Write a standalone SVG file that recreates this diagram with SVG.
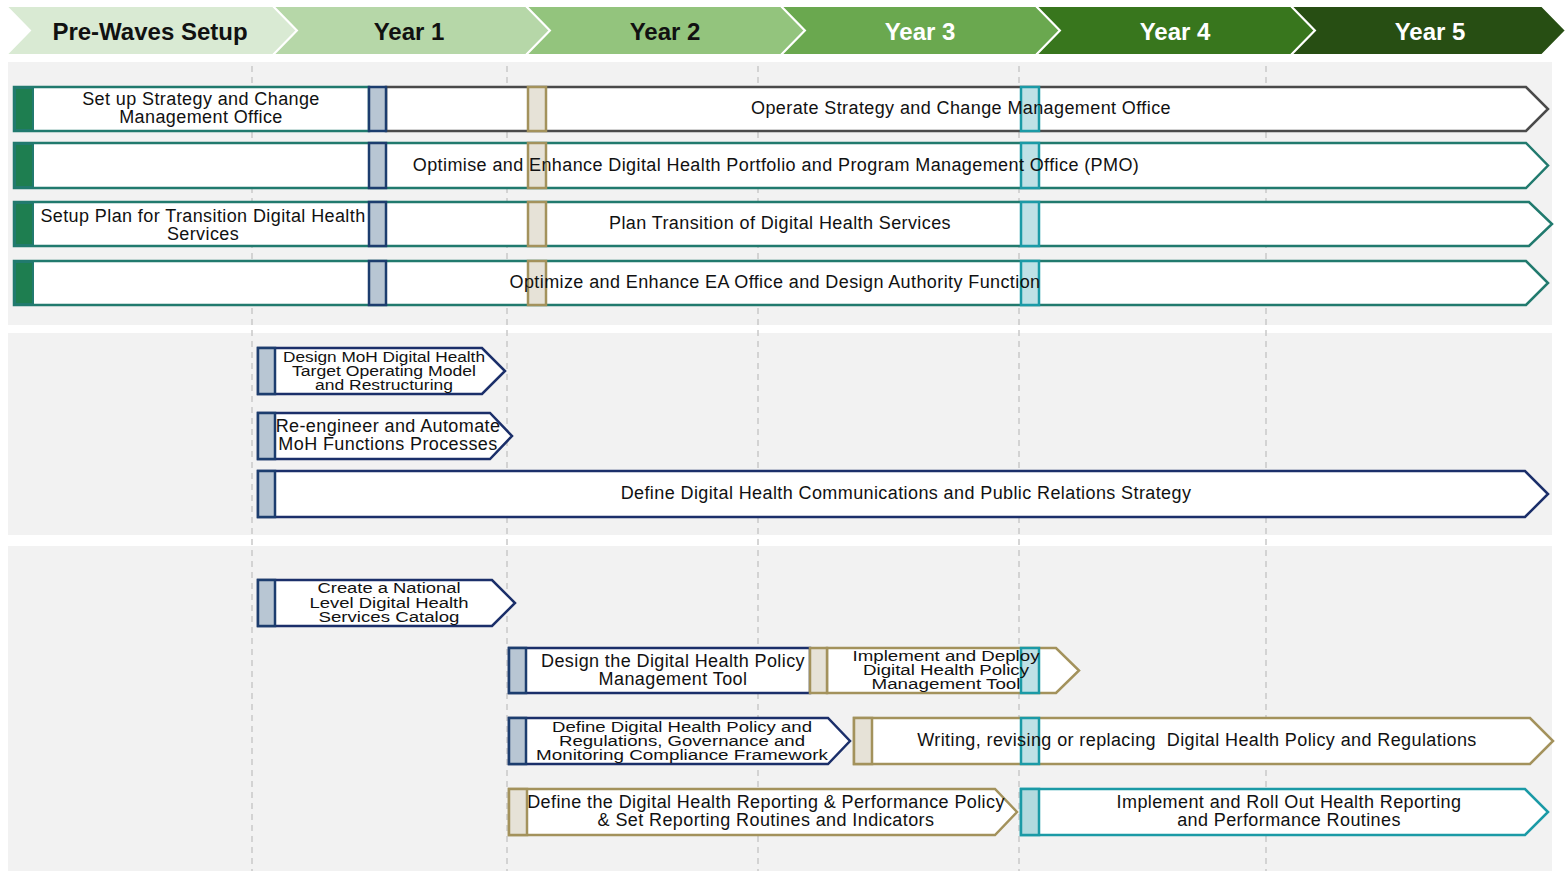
<svg xmlns="http://www.w3.org/2000/svg" width="1566" height="871" viewBox="0 0 1566 871">
<style>
.hdr{stroke:#ffffff;stroke-width:2}
.ht{font-family:"Liberation Sans",Arial,sans-serif;font-weight:bold;font-size:24px;text-anchor:middle}
.panel{fill:#f2f2f2}
.grid{stroke:#c9c9c9;stroke-width:1.5;stroke-dasharray:6 5;fill:none}
.box{fill:#ffffff;stroke-width:2.5}
.teal{stroke:#217a6e}
.gray{stroke:#4a4a4a}
.navy{stroke:#1b2f6a}
.tan{stroke:#a3925c}
.cyan{stroke:#1b9aa6}
.gblk{fill:#1e7e50;stroke:#217a6e;stroke-width:2}
.bbox{fill:#b8c6d3;stroke:#1c3d6e;stroke-width:2.5}
.tbox{fill:#e6e2d7;stroke:#a3925c;stroke-width:2.5}
.cbox{fill:#bfe1e6;stroke:#1b9aa6;stroke-width:2.5}
.t{font-family:"Liberation Sans",Arial,sans-serif;font-size:18px;letter-spacing:0.4px;fill:#111111;text-anchor:middle}
.s{font-family:"Liberation Sans",Arial,sans-serif;font-size:14px;fill:#111111;text-anchor:middle}
</style>
<rect width="1566" height="871" fill="#ffffff"/>
<g id="header">
<polygon class="hdr" fill="#d9ead3" points="6,6 273,6 297,30.5 273,55 6,55 30,30.5"/>
<polygon class="hdr" fill="#b6d7a8" points="273,6 526,6 550,30.5 526,55 273,55 297,30.5"/>
<polygon class="hdr" fill="#93c47d" points="526,6 781,6 805,30.5 781,55 526,55 550,30.5"/>
<polygon class="hdr" fill="#6aa84f" points="781,6 1036,6 1060,30.5 1036,55 781,55 805,30.5"/>
<polygon class="hdr" fill="#38761d" points="1036,6 1291,6 1315,30.5 1291,55 1036,55 1060,30.5"/>
<polygon class="hdr" fill="#274e13" points="1291,6 1542,6 1566,30.5 1542,55 1291,55 1315,30.5"/>
<text class="ht" x="150" y="39.5" fill="#111111">Pre-Waves Setup</text>
<text class="ht" x="409" y="39.5" fill="#111111">Year 1</text>
<text class="ht" x="665" y="39.5" fill="#111111">Year 2</text>
<text class="ht" x="920" y="39.5" fill="#ffffff">Year 3</text>
<text class="ht" x="1175" y="39.5" fill="#ffffff">Year 4</text>
<text class="ht" x="1430" y="39.5" fill="#ffffff">Year 5</text>
</g>
<g id="panels">
<rect class="panel" x="8" y="62" width="1544" height="263"/>
<rect class="panel" x="8" y="333" width="1544" height="202"/>
<rect class="panel" x="8" y="546" width="1544" height="325"/>
</g>
<g id="gridlines">
<line class="grid" x1="252" y1="66" x2="252" y2="871"/>
<line class="grid" x1="507" y1="66" x2="507" y2="871"/>
<line class="grid" x1="758" y1="66" x2="758" y2="871"/>
<line class="grid" x1="1019" y1="66" x2="1019" y2="871"/>
<line class="grid" x1="1266" y1="66" x2="1266" y2="871"/>
</g>
<g id="connectors"/>
<g id="row1">
<rect class="box teal" x="14" y="87" width="355" height="44"/>
<polygon class="box gray" points="386,87 1526,87 1548,109 1526,131 386,131"/>
<rect class="gblk" x="15" y="88" width="18" height="42"/>
<rect class="bbox" x="369" y="87" width="17" height="44"/>
<rect class="tbox" x="528" y="87" width="18" height="44"/>
<rect class="cbox" x="1021" y="87" width="18" height="44"/>
<text class="t" x="201" y="105">Set up Strategy and Change</text>
<text class="t" x="201" y="123">Management Office</text>
<text class="t" x="961" y="114">Operate Strategy and Change Management Office</text>
</g>
<g id="row2">
<polygon class="box teal" points="14,143 1526,143 1548,165.5 1526,188 14,188"/>
<rect class="gblk" x="15" y="144" width="18" height="43"/>
<rect class="bbox" x="369" y="143" width="17" height="45"/>
<rect class="tbox" x="528" y="143" width="18" height="45"/>
<rect class="cbox" x="1021" y="143" width="18" height="45"/>
<text class="t" x="776" y="171">Optimise and Enhance Digital Health Portfolio and Program Management Office (PMO)</text>
</g>
<g id="row3">
<polygon class="box teal" points="14,202 1529,202 1552,224 1529,246 14,246"/>
<rect class="gblk" x="15" y="203" width="18" height="42"/>
<rect class="bbox" x="369" y="202" width="17" height="44"/>
<rect class="tbox" x="528" y="202" width="18" height="44"/>
<rect class="cbox" x="1021" y="202" width="18" height="44"/>
<text class="t" x="203" y="222">Setup Plan for Transition Digital Health</text>
<text class="t" x="203" y="240">Services</text>
<text class="t" x="780" y="229">Plan Transition of Digital Health Services</text>
</g>
<g id="row4">
<polygon class="box teal" points="14,261 1526,261 1548,283 1526,305 14,305"/>
<rect class="gblk" x="15" y="262" width="18" height="42"/>
<rect class="bbox" x="369" y="261" width="17" height="44"/>
<rect class="tbox" x="528" y="261" width="18" height="44"/>
<rect class="cbox" x="1021" y="261" width="18" height="44"/>
<text class="t" x="775" y="288">Optimize and Enhance EA Office and Design Authority Function</text>
</g>
<g id="design-moh-tom">
<polygon class="box navy" points="258,348 482,348 505,371 482,394 258,394"/>
<rect class="bbox" x="258" y="348" width="17" height="46"/>
<text class="s" x="384" y="362" textLength="202" lengthAdjust="spacingAndGlyphs">Design MoH Digital Health</text>
<text class="s" x="384" y="376" textLength="184" lengthAdjust="spacingAndGlyphs">Target Operating Model</text>
<text class="s" x="384" y="390" textLength="138" lengthAdjust="spacingAndGlyphs">and Restructuring</text>
</g>
<g id="reengineer-moh">
<polygon class="box navy" points="258,413 490,413 512,436 490,459 258,459"/>
<rect class="bbox" x="258" y="413" width="17" height="46"/>
<text class="t" x="388" y="432">Re-engineer and Automate</text>
<text class="t" x="388" y="450">MoH Functions Processes</text>
</g>
<g id="comms-strategy">
<polygon class="box navy" points="258,471 1525,471 1548,494 1525,517 258,517"/>
<rect class="bbox" x="258" y="471" width="17" height="46"/>
<text class="t" x="906" y="499">Define Digital Health Communications and Public Relations Strategy</text>
</g>
<g id="services-catalog">
<polygon class="box navy" points="258,580 492,580 515,603 492,626 258,626"/>
<rect class="bbox" x="258" y="580" width="17" height="46"/>
<text class="s" x="389" y="593" textLength="143" lengthAdjust="spacingAndGlyphs">Create a National</text>
<text class="s" x="389" y="607.5" textLength="159" lengthAdjust="spacingAndGlyphs">Level Digital Health</text>
<text class="s" x="389" y="622" textLength="141" lengthAdjust="spacingAndGlyphs">Services Catalog</text>
</g>
<g id="policy-tool">
<rect class="box navy" x="509" y="648" width="301" height="45"/>
<rect class="bbox" x="509" y="648" width="17" height="45"/>
<text class="t" x="673" y="667">Design the Digital Health Policy</text>
<text class="t" x="673" y="685">Management Tool</text>
</g>
<g id="deploy-policy-tool">
<polygon class="box tan" points="827,648 1056,648 1079,670.5 1056,693 827,693"/>
<rect class="tbox" x="810" y="648" width="17" height="45"/>
<rect class="cbox" x="1021" y="648" width="18" height="45"/>
<text class="s" x="946" y="661" textLength="187" lengthAdjust="spacingAndGlyphs">Implement and Deploy</text>
<text class="s" x="946" y="675" textLength="166" lengthAdjust="spacingAndGlyphs">Digital Health Policy</text>
<text class="s" x="946" y="689" textLength="149" lengthAdjust="spacingAndGlyphs">Management Tool</text>
</g>
<g id="policy-framework">
<polygon class="box navy" points="509,718 828,718 850,741 828,764 509,764"/>
<rect class="bbox" x="509" y="718" width="17" height="46"/>
<text class="s" x="682" y="732" textLength="260" lengthAdjust="spacingAndGlyphs">Define Digital Health Policy and</text>
<text class="s" x="682" y="746" textLength="246" lengthAdjust="spacingAndGlyphs">Regulations, Governance and</text>
<text class="s" x="682" y="760" textLength="292" lengthAdjust="spacingAndGlyphs">Monitoring Compliance Framework</text>
</g>
<g id="policy-writing">
<polygon class="box tan" points="854,718 1530,718 1553,741 1530,764 854,764"/>
<rect class="tbox" x="854" y="718" width="18" height="46"/>
<rect class="cbox" x="1021" y="718" width="18" height="46"/>
<text class="t" x="1197" y="746" xml:space="preserve">Writing, revising or replacing  Digital Health Policy and Regulations</text>
</g>
<g id="reporting-policy">
<polygon class="box tan" points="509,789 995,789 1017,812 995,835 509,835"/>
<rect class="tbox" x="509" y="789" width="18" height="46"/>
<text class="t" x="766" y="808">Define the Digital Health Reporting &amp; Performance Policy</text>
<text class="t" x="766" y="826">&amp; Set Reporting Routines and Indicators</text>
</g>
<g id="reporting-rollout">
<polygon class="box cyan" points="1021,789 1525,789 1548,812 1525,835 1021,835"/>
<rect class="cbox" x="1021" y="789" width="18" height="46" style="fill:#b2dadf"/>
<text class="t" x="1289" y="808">Implement and Roll Out Health Reporting</text>
<text class="t" x="1289" y="826">and Performance Routines</text>
</g>
</svg>
